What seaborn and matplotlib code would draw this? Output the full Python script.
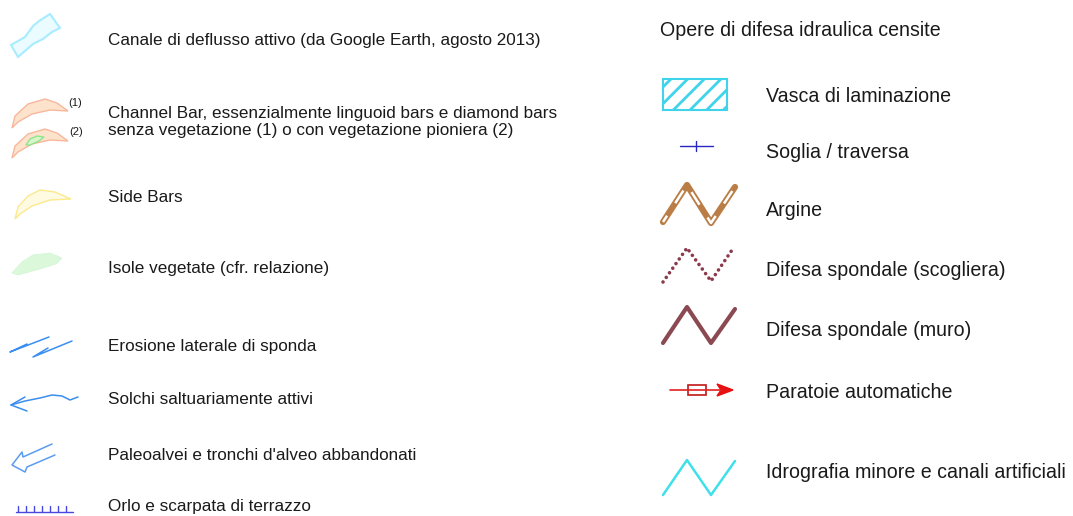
import matplotlib
matplotlib.use("Agg")
import matplotlib.pyplot as plt
import matplotlib.patches as mpatches
import numpy as np
import seaborn as sns

# legend texts and row positions (pixels from top)
left_labels = [
    "Canale di deflusso attivo (da Google Earth, agosto 2013)",
    "Channel Bar, essenzialmente linguoid bars e diamond bars\nsenza vegetazione (1) o con vegetazione pioniera (2)",
    "Side Bars",
    "Isole vegetate (cfr. relazione)",
    "Erosione laterale di sponda",
    "Solchi saltuariamente attivi",
    "Paleoalvei e tronchi d'alveo abbandonati",
    "Orlo e scarpata di terrazzo",
]
left_y = [40, 122, 198, 268, 347, 400, 455, 507]

right_title = "Opere di difesa idraulica censite"
right_labels = [
    "Vasca di laminazione",
    "Soglia / traversa",
    "Argine",
    "Difesa spondale (scogliera)",
    "Difesa spondale (muro)",
    "Paratoie automatiche",
    "Idrografia minore e canali artificiali",
]
right_y = [97, 152, 210, 270, 331, 393, 473]

sns.set_theme(style="white")
plt.rcParams['font.family'] = ['Liberation Sans', 'DejaVu Sans']
plt.rcParams['hatch.color'] = "#40d4ea"
plt.rcParams['hatch.linewidth'] = 2.0

fig = plt.figure(figsize=(10.73, 5.16), dpi=100)
ax = fig.add_axes([0, 0, 1, 1])
ax.set_xlim(0, 1073)
ax.set_ylim(516, 0)
ax.axis("off")

# ---- left column labels
for lab, y in zip(left_labels, left_y):
    ax.text(108, y, lab, fontsize=12.3, va="center", ha="left", color="#1a1a1a",
            linespacing=1.2)

# ---- right column
ax.text(660, 30, right_title, fontsize=14.1, va="center", ha="left", color="#1a1a1a")
for lab, y in zip(right_labels, right_y):
    ax.text(766, y, lab, fontsize=14.1, va="center", ha="left", color="#1a1a1a")


def poly(pts, fc, ec, lw=1.0):
    ax.add_patch(mpatches.Polygon(pts, closed=True, fc=fc, ec=ec, lw=lw))


# canale
poly([(11, 45), (25, 37), (33, 26), (39, 21), (50, 14), (60, 28), (52, 32),
      (43, 39), (33, 44), (18, 57)], "#eafcff", "#a8ecff", lw=1.5)

# channel bars
bar = np.array([(12, 128), (15, 116), (28, 104), (45, 99), (57, 103), (68, 111),
                (50, 110), (32, 114), (18, 122)])
poly(bar, "#fde3cb", "#f7b79c")
poly(bar + [0, 30], "#fde3cb", "#f7b79c")
poly([(26, 145), (30, 139), (37, 136), (44, 137), (39, 141), (30, 145)], "#d8f6c8", "#8fe58f")
ax.text(68, 103, "(1)", fontsize=8, va="center", ha="left", color="#1a1a1a")
ax.text(69, 132, "(2)", fontsize=8, va="center", ha="left", color="#1a1a1a")

# side bars
poly([(15, 219), (18, 207), (28, 196), (40, 190), (55, 192), (71, 199),
      (50, 200), (32, 206), (20, 214)], "#fffbe3", "#fbe98e")

# isole vegetate
poly([(12, 273), (22, 262), (33, 255), (50, 253), (62, 258), (56, 264),
      (40, 269), (18, 275)], "#dbf8db", "#d2f5d2", lw=0.5)

blue = "#3a8ef0"
# erosione
ax.plot([49, 10, 27], [337, 352, 344], color=blue, lw=1.1)
ax.plot([72, 33, 48], [341, 357, 348], color=blue, lw=1.1)
# solchi
ax.plot([78, 70, 62, 52, 40, 25, 11], [397, 400, 396, 395, 398, 401, 405], color=blue, lw=1.1)
ax.plot([25, 11, 27], [397, 405, 411], color=blue, lw=1.1)
# paleoalvei
ax.plot([52, 23, 22, 12, 25, 27, 55], [444, 457, 452, 465, 472, 467, 455],
        color="#5a9cf2", lw=1.1)
# orlo
ax.plot([16, 73], [512, 512], color="#4848e0", lw=1)
for tx in range(18, 73, 8):
    ax.plot([tx, tx], [512, 506], color="#4848e0", lw=1)

# ---- right symbols
ax.add_patch(mpatches.Rectangle((663, 79), 64, 31, fc="white", ec="#40d4ea",
                                lw=1.5, hatch="//"))

ax.plot([680, 713], [146, 146], color="#2828c0", lw=1)
ax.plot([696, 696], [141, 151], color="#2828c0", lw=1)

zig_x = [663, 687, 711, 735]
ax.plot(zig_x, [222, 185, 223, 187], color="#b97d45", lw=4.5, solid_capstyle="round")
ax.plot(zig_x, [222, 185, 223, 187], color="white", lw=1.8,
        linestyle=(3, (6, 6)))

ax.plot(zig_x[:3] + [732], [282, 248, 281, 250], color="#8a3a4a", lw=2.6,
        linestyle=(0, (0.01, 1.55)), dash_capstyle="round")

ax.plot(zig_x, [343, 307, 343, 309], color="#8b4a52", lw=3)

ax.plot([670, 722], [390, 390], color="#e02020", lw=1.2)
ax.add_patch(mpatches.Rectangle((688, 385), 18, 10, fc="white", ec="#c01818", lw=1.2))
ax.add_patch(mpatches.Polygon([(733, 390), (717, 384), (721, 390), (717, 396)],
                              closed=True, fc="#e81010", ec="#e81010"))

ax.plot(zig_x, [495, 460, 495, 461], color="#40e0ea", lw=1.8)

fig.savefig("out.png", dpi=100, facecolor="white")
